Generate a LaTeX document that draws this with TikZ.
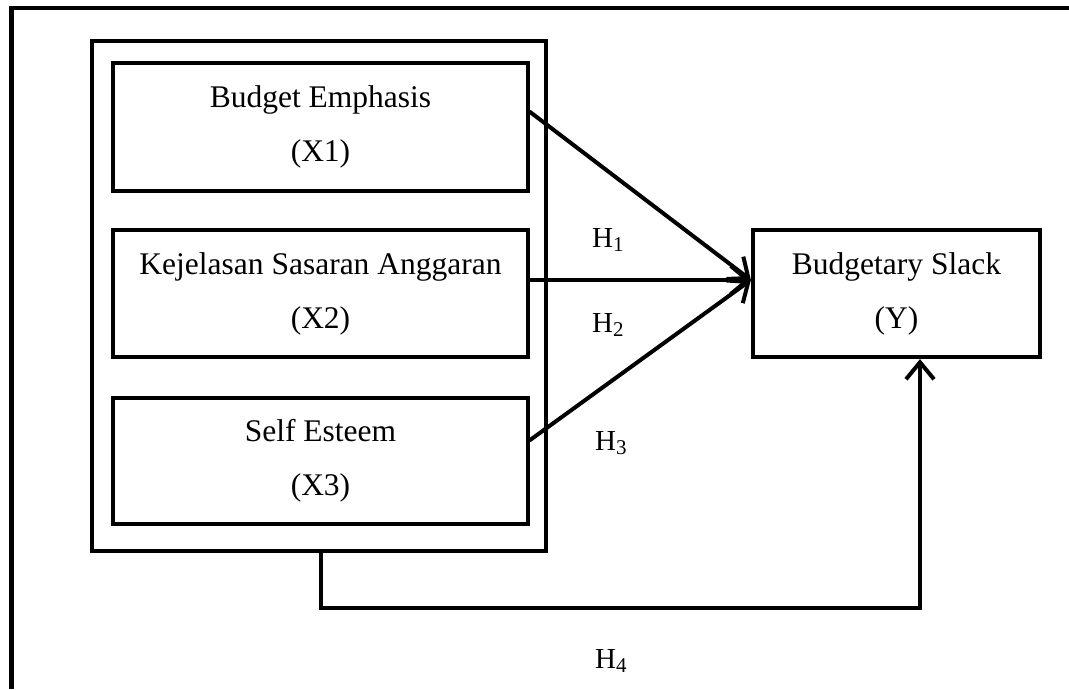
\documentclass[tikz,border=0pt]{standalone}
\usepackage{fontspec}
\setmainfont{Liberation Serif}
\usetikzlibrary{arrows.meta}
\begin{document}
\begin{tikzpicture}[x=1pt,y=1pt,
  box/.style={draw, line width=4.2pt, align=center, inner sep=0pt,
    font=\fontsize{31.5}{54}\selectfont},
  conn/.style={line width=4pt, line cap=round,
    -{Straight Barb[length=17pt,width=28pt,line width=4pt]}},
  hlab/.style={anchor=base west, inner sep=0pt, font=\fontsize{29}{30}\selectfont}]
\useasboundingbox (0,0) rectangle (1069,-689);
% outer frame (open on right and bottom)
\draw[line width=4.5pt] (11.5,-689) -- (11.5,-8) -- (1069,-8);
% group box
\node[draw, line width=4pt, inner sep=0pt, minimum width=454pt, minimum height=510pt] (grp) at (319,-296) {};
% variable boxes
\node[box, minimum width=415pt, minimum height=128pt] (X1) at (320.5,-127) {Budget Emphasis\\(X1)};
\node[box, minimum width=415pt, minimum height=127pt] (X2) at (320.5,-293.5) {Kejelasan Sasaran Anggaran\\(X2)};
\node[box, minimum width=415pt, minimum height=126pt] (X3) at (320.5,-461) {Self Esteem\\(X3)};
\node[box, minimum width=287pt, minimum height=127pt] (Y) at (896.5,-293.5) {Budgetary Slack\\(Y)};
% connectors
\draw[conn] ([yshift=15pt]X1.east) -- ([yshift=13.5pt]Y.west);
\draw[conn] ([yshift=13.5pt]X2.east) -- ([yshift=13.5pt]Y.west);
\draw[conn] ([yshift=21pt]X3.east) -- ([yshift=13.5pt]Y.west);
\draw[conn, line cap=butt] ([xshift=2pt]grp.south) -- ++(0,-55) -| ([xshift=23.5pt]Y.south);
% labels
\node[hlab] (h1) at (592,-247) {H\raisebox{-4pt}{\fontsize{21}{21}\selectfont 1}};
\node[hlab] (h2) at (592,-332) {H\raisebox{-4pt}{\fontsize{21}{21}\selectfont 2}};
\node[hlab] (h3) at (595,-450) {H\raisebox{-4pt}{\fontsize{21}{21}\selectfont 3}};
\node[hlab] (h4) at (595,-668) {H\raisebox{-4pt}{\fontsize{21}{21}\selectfont 4}};
\end{tikzpicture}
\end{document}
